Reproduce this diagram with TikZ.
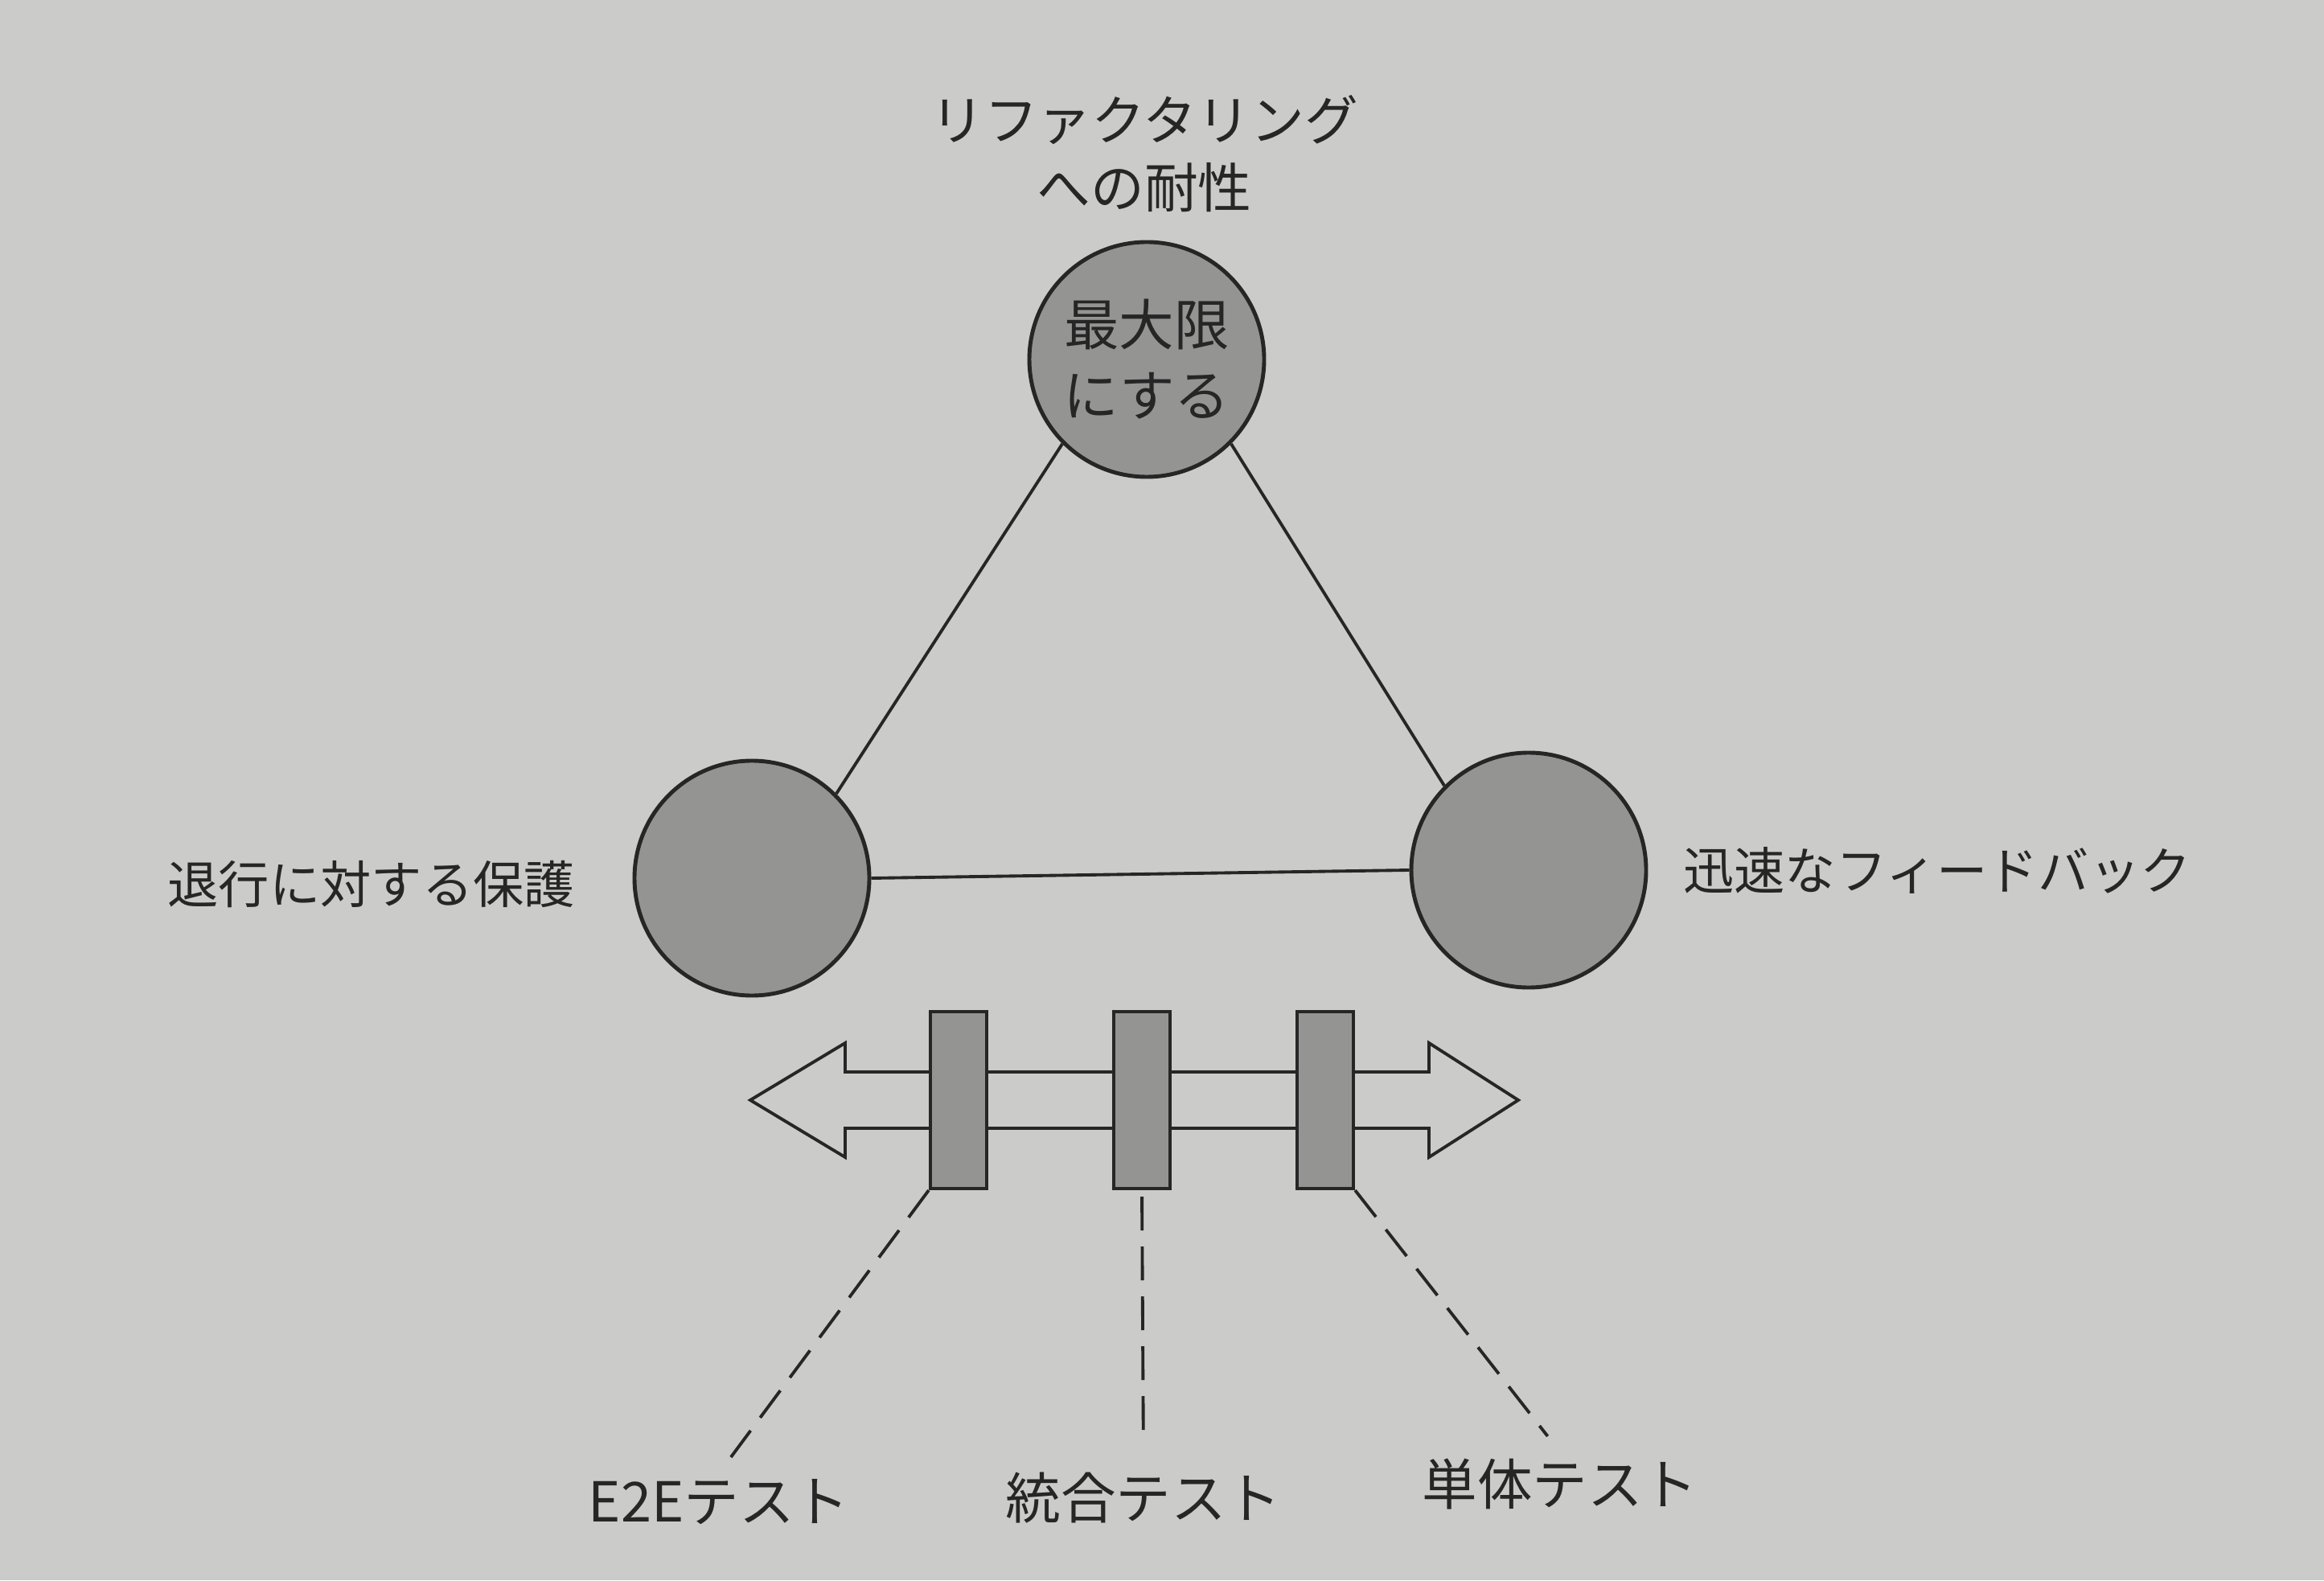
\documentclass[tikz,border=0pt]{standalone}
\usepackage{fontspec}
\newfontfamily\jpfont{Noto Sans CJK JP}
\usetikzlibrary{positioning}
\definecolor{paper}{RGB}{203,203,201}
\definecolor{dotgray}{RGB}{148,148,147}
\definecolor{ink}{RGB}{38,38,38}

\begin{document}
\begin{tikzpicture}[
  ball/.style={draw=ink, line width=1.4pt, circle, fill=dotgray, minimum size=2.92cm, inner sep=0pt},
  jtext/.style={text=ink, font=\jpfont\fontsize{18pt}{24pt}\selectfont, inner sep=2pt},
  toptext/.style={text=ink, font=\jpfont\fontsize{19pt}{24pt}\selectfont, inner sep=2pt},
  bigtext/.style={text=ink, font=\jpfont\fontsize{19.5pt}{25pt}\selectfont, inner sep=2pt},
  bar/.style={draw=ink, line width=1.2pt, fill=dotgray, minimum width=0.7cm, minimum height=2.2cm, inner sep=0pt},
  edge/.style={draw=ink, line width=1.1pt},
  lead/.style={draw=ink, line width=1.1pt, dash pattern=on 0.42cm off 0.2cm}
]
\fill[paper] (0,0) rectangle (28.9,19.65);
\useasboundingbox (0,0) rectangle (28.9,19.65);

% triangle
\node[ball, bigtext, align=center] (T) at (14.26,15.18) {最大限\\にする};
\node[ball] (L) at (9.35,8.73) {};
\node[ball] (R) at (19.01,8.83) {};
\node[toptext, align=center] (TL) at (14.23,17.74) {リファクタリング\\への耐性};
\node[jtext, left=0.64cm of L, yshift=-0.08cm] (LL) {退行に対する保護};
\node[jtext, right=0.36cm of R] (RL) {迅速なフィードバック};

\draw[edge] (T.south west) -- (L.north east);
\draw[edge] (T.south east) -- (R.north west);
\draw[edge] (L.east) -- (R.west);

%==========
% double arrow with the three test bars
\draw[edge, fill=paper] (9.33,5.97) -- (10.51,6.68) -- (10.51,6.32) -- (17.77,6.32)
  -- (17.77,6.68) -- (18.88,5.97) -- (17.77,5.26) -- (17.77,5.62)
  -- (10.51,5.62) -- (10.51,5.26) -- cycle;

\node[bar] (B1) at (11.92,5.97) {};
\node[bar] (B2) at (14.20,5.97) {};
\node[bar] (B3) at (16.48,5.97) {};

\node[bigtext] (E2E) at (8.94,0.97) {E2Eテスト};
\node[bigtext] (INT) at (14.22,1.02) {統合テスト};
\node[bigtext] (UNIT) at (19.40,1.20) {単体テスト};

\draw[lead, shorten >=0.25cm] (B1.south west) -- (E2E.north);
\draw[lead, shorten <=0.08cm, shorten >=0.3cm] (B2.south) -- (INT.north);
\draw[lead, shorten >=0.25cm] (B3.south east) -- (UNIT.north);
\end{tikzpicture}
\end{document}
